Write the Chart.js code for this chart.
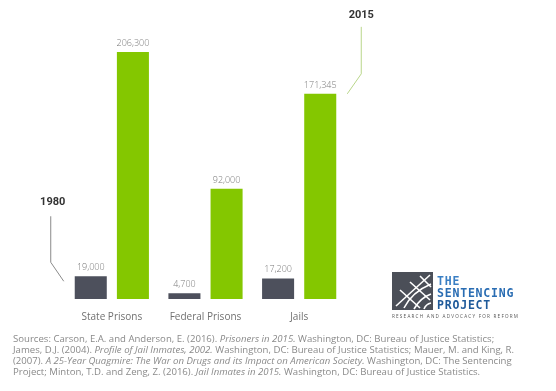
<!DOCTYPE html>
<html lang="en">
<head>
  <meta charset="UTF-8">
  <title>Drug offenders in prisons and jails, 1980 and 2015</title>
  <script src="https://cdn.jsdelivr.net/npm/chart.js"></script>
  <style>
    body { margin: 0; background: #fff; font-family: "Open Sans", sans-serif; }
    #wrap { position: absolute; left: 0; top: 0; width: 556px; height: 343px; }
    #logo { position: absolute; left: 390px; top: 270px; width: 135px; height: 52px; }
    #sources { position: absolute; left: 13px; top: 333px; font-size: 9.6px; line-height: 11px; color: #8a8a8a; white-space: nowrap; }
  </style>
</head>
<body>
  <div id="wrap"><canvas id="chart"></canvas></div>

  <svg id="logo" viewBox="0 0 135 52">
    <rect x="2" y="2" width="41" height="38" fill="#4b4f58"/>
    <g stroke="#fff" stroke-width="1.6" fill="none">
      <path d="M6 36 L40 5"/>
      <path d="M14 38 Q22 22 41 14"/>
      <path d="M24 39 Q30 28 41 24"/>
      <path d="M34 39 Q36 34 41 33"/>
      <path d="M10 20 L30 38"/>
      <path d="M20 12 L40 30"/>
      <path d="M30 6 L41 17"/>
    </g>
    <g font-family="DejaVu Sans Mono, monospace" font-weight="bold" font-size="11.5">
      <text x="47" y="15" fill="#3a7fc4" letter-spacing="0.8">THE</text>
      <text x="47" y="27" fill="#2a6db3" letter-spacing="0.8">SENTENCING</text>
      <text x="47" y="39" fill="#1f5a9a" letter-spacing="0.8">PROJECT</text>
    </g>
    <text x="2" y="48" font-family="Open Sans, sans-serif" font-size="4.6" fill="#555" textLength="126">RESEARCH AND ADVOCACY FOR REFORM</text>
  </svg>

  <div id="sources">
    Sources: Carson, E.A. and Anderson, E. (2016). <i>Prisoners in 2015.</i> Washington, DC: Bureau of Justice Statistics;<br>
    James, D.J. (2004). <i>Profile of Jail Inmates, 2002.</i> Washington, DC: Bureau of Justice Statistics; Mauer, M. and King, R.<br>
    (2007). <i>A 25-Year Quagmire: The War on Drugs and its Impact on American Society.</i> Washington, DC: The Sentencing<br>
    Project; Minton, T.D. and Zeng, Z. (2016). <i>Jail Inmates in 2015.</i> Washington, DC: Bureau of Justice Statistics.
  </div>

  <script>
    // data
    const categories = ["State Prisons", "Federal Prisons", "Jails"];
    const years = ["1980", "2015"];
    const values1980 = [19000, 4700, 17200];
    const values2015 = [206300, 92000, 171345];

    const darkColor = "#4d505c";
    const greenColor = "#84c700";

    // value labels above bars + the year callouts
    const labelPlugin = {
      id: "labels",
      afterDatasetsDraw(chart) {
        const ctx = chart.ctx;
        ctx.save();
        ctx.font = "300 9px 'Open Sans', sans-serif";
        ctx.fillStyle = "#7a7a7a";
        ctx.textAlign = "center";
        ctx.textBaseline = "bottom";
        chart.data.datasets.forEach((ds, i) => {
          chart.getDatasetMeta(i).data.forEach((bar, j) => {
            ctx.fillText(ds.data[j].toLocaleString("en-US"), bar.x, bar.y - 4);
          });
        });

        // 1980 callout, pointing at the first dark bar
        const b0 = chart.getDatasetMeta(0).data[0];
        const x0 = b0.x - b0.width / 2;
        ctx.strokeStyle = "#8a8a8a";
        ctx.lineWidth = 1;
        ctx.beginPath();
        ctx.moveTo(x0 - 24, b0.y - 60);
        ctx.lineTo(x0 - 24, b0.y - 14);
        ctx.lineTo(x0 - 11, b0.y + 5);
        ctx.stroke();

        // 2015 callout, pointing at the jails green bar
        const b1 = chart.getDatasetMeta(1).data[2];
        const x1 = b1.x + b1.width / 2;
        ctx.strokeStyle = "#b9d68a";
        ctx.beginPath();
        ctx.moveTo(x1 + 25, b1.y - 67);
        ctx.lineTo(x1 + 25, b1.y - 20);
        ctx.lineTo(x1 + 11, b1.y);
        ctx.stroke();

        ctx.font = "bold 11px Roboto, sans-serif";
        ctx.fillStyle = "#333";
        ctx.textBaseline = "middle";
        ctx.fillText(years[0], x0 - 22, b0.y - 74);
        ctx.fillText(years[1], x1 + 25, b1.y - 79);
        ctx.restore();
      }
    };

    new Chart(document.getElementById("chart"), {
      type: "bar",
      data: {
        labels: categories,
        datasets: [
          { label: years[0], data: values1980, backgroundColor: darkColor },
          { label: years[1], data: values2015, backgroundColor: greenColor }
        ]
      },
      options: {
        responsive: true,
        maintainAspectRatio: false,
        animation: false,
        layout: { padding: { left: 65, right: 210, top: 52, bottom: 8 } },
        datasets: { bar: { categoryPercentage: 0.9, barPercentage: 0.76 } },
        plugins: { legend: { display: false }, tooltip: { enabled: false } },
        scales: {
          x: {
            grid: { display: false, drawTicks: false },
            border: { display: false },
            ticks: { padding: 12, color: "#707070", font: { family: "'Open Sans', sans-serif", size: 10 } }
          },
          y: { display: false, min: 0, max: 206300 }
        }
      },
      plugins: [labelPlugin]
    });
  </script>
</body>
</html>
